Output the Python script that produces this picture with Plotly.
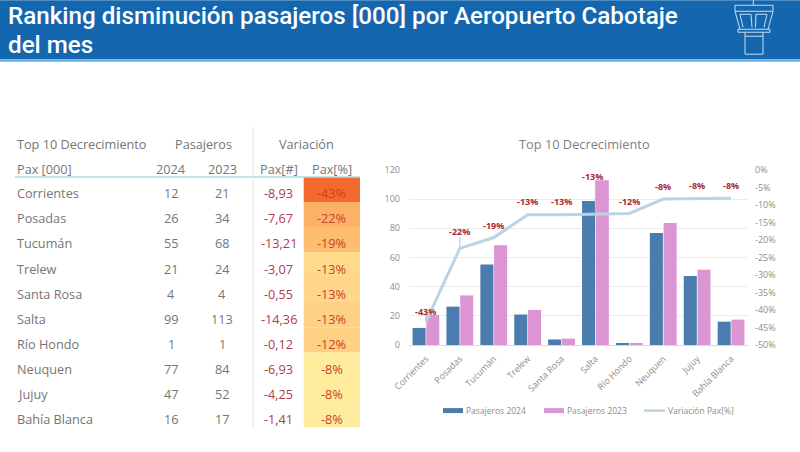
import plotly.graph_objects as go

# Airport data, passengers in thousands
airports = ["Corrientes", "Posadas", "Tucumán", "Trelew", "Santa Rosa", "Salta", "Río Hondo", "Neuquen", "Jujuy", "Bahía Blanca"]
pax_2024 = [11.7, 26.3, 55.2, 20.9, 3.8, 98.7, 1.0, 76.8, 47.3, 16.0]
pax_2023 = [20.6, 34.0, 68.4, 24.0, 4.4, 113.0, 1.1, 83.7, 51.6, 17.4]
delta_pax = [-8.93, -7.67, -13.21, -3.07, -0.55, -14.36, -0.12, -6.93, -4.25, -1.41]
delta_pct = [-43.3, -22.4, -19.3, -12.8, -12.8, -12.7, -12.4, -8.3, -8.2, -8.1]
pct_fill = ["#F4692D", "#FBB266", "#FDBE70", "#FFD98C", "#FFD68A", "#FED286", "#FDD083", "#FFEB9C", "#FFEB9C", "#FFEB9C"]

right_ticks = [0, -5, -10, -15, -20, -25, -30, -35, -40, -45, -50]

TITLE_LINES = ["Ranking disminución pasajeros [000] por Aeropuerto Cabotaje", "del mes"]
BODY_FONT = "Open Sans"
GREY = "#757575"
AXIS_GREY = "#8C8C8C"
RED = "#AE3A4E"

# Plot rectangle in page pixels; overlays are placed relative to it
L, R, T, B = 409, 748, 170, 345.3
W, H = 800, 452


def px(x):
    return (x - L) / (R - L)


def py(y):
    return (B - y) / (B - T)


def text(x, y, s, size=12.7, color=GREY, anchor="center", family=BODY_FONT, weight=None):
    return dict(xref="paper", yref="paper", x=px(x), y=py(y), text=s, showarrow=False,
                xanchor=anchor, yanchor="middle",
                font=dict(size=size, color=color, family=family, weight=weight))


def rect(x0, y0, x1, y1, color):
    return dict(type="rect", xref="paper", yref="paper", x0=px(x0), x1=px(x1), y0=py(y0), y1=py(y1),
                fillcolor=color, line_width=0, layer="above")


def seg(x0, y0, x1, y1, color, width=1):
    return dict(type="line", xref="paper", yref="paper", x0=px(x0), x1=px(x1), y0=py(y0), y1=py(y1),
                line=dict(color=color, width=width), layer="above")


fig = go.Figure()
fig.add_bar(x=airports, y=pax_2024, name="Pasajeros 2024", marker_color="#4A7DAE", marker_line_width=0)
fig.add_bar(x=airports, y=pax_2023, name="Pasajeros 2023", marker_color="#DC95D3", marker_line_width=0)
fig.add_scatter(x=airports, y=delta_pct, name="Variación Pax[%]", yaxis="y2", mode="lines",
                line=dict(color="#BAD4E6", width=3), hoverinfo="skip")

shapes = []
annotations = []

# Header band and title
shapes.append(rect(0, 0, 800, 59, "#1467AF"))
shapes.append(rect(0, 59, 800, 61.5, "#62B1E6"))
annotations.append(text(6, 16, TITLE_LINES[0], size=24.2, color="white", anchor="left", family="Roboto", weight=500))
annotations.append(text(6, 44.5, TITLE_LINES[1], size=24.2, color="white", anchor="left", family="Roboto", weight=500))

# Control tower icon
ICON = "#C9DDEE"
for seg_pts in [
    (753.3, 0, 753.3, 5), (735, 5, 773, 5), (735, 5, 735, 11), (773, 5, 773, 11), (735, 11, 773, 11),
    (735, 11, 740, 29), (773, 11, 768, 29), (740, 14, 751, 14), (751, 14, 752, 27), (740, 14, 743, 27),
    (756, 14, 767, 14), (756, 14, 755.5, 27), (767, 14, 764, 27), (738, 29, 770, 29), (738, 32, 770, 32),
    (738, 29, 738, 32), (770, 29, 770, 32), (745, 32, 745, 54), (763, 32, 763, 54), (745, 54, 763, 54),
    (745, 36, 763, 36),
]:
    shapes.append(seg(*seg_pts, ICON, 1))

# Table header
annotations += [
    text(15, 143.5, "Top 10 Decrecimiento", anchor="left"),
    text(203, 143.5, "Pasajeros"),
    text(306.5, 143.5, "Variación"),
    text(15, 168.5, "Pax [000]", anchor="left"),
    text(171.5, 168.5, "2024"),
    text(222, 168.5, "2023"),
    text(278.5, 168.5, "Pax[#]"),
    text(331.5, 168.5, "Pax[%]"),
]

# Table rows
ROW0, ROW_H = 193.3, 25.15
CELL0, CELL_H = 177, 25.07
for i, name in enumerate(airports):
    yc = ROW0 + i * ROW_H
    shapes.append(rect(303.7, CELL0 + i * CELL_H, 360, CELL0 + (i + 1) * CELL_H, pct_fill[i]))
    annotations += [
        text(15, yc, name, anchor="left"),
        text(171.5, yc, f"{round(pax_2024[i])}"),
        text(222, yc, f"{round(pax_2023[i])}"),
        text(278.5, yc, f"{delta_pax[i]:.2f}".replace(".", ","), color=RED),
        text(331.5, yc, f"{round(delta_pct[i])}%", color="#C8402F"),
    ]
shapes.append(seg(15, 177, 360, 177, "#A9DDE3", 1.5))
shapes.append(seg(253, 127, 253, 428, "#E3E3E3", 1))

# Chart title
annotations.append(text(584, 144, "Top 10 Decrecimiento", size=12.8, color="#7F7F7F"))

# Line data labels, offset above each point
label_shift = [10, 17, 12, 13, 13, 38, 12, 13, 13, 13]
label_dx = [0, 0, 0, 0, 0, -3, 0, 0, 0, 0]
for i, name in enumerate(airports):
    annotations.append(dict(xref="x", yref="y2", x=name, y=delta_pct[i], yshift=label_shift[i], xshift=label_dx[i],
                            text=f"{round(delta_pct[i])}%", showarrow=False, yanchor="middle",
                            font=dict(size=9, color="#A92A35", family=BODY_FONT, weight=700)))

# Leader lines on the labels that sit away from their points
for i, top in [(0, -40.5), (1, -19.3), (5, -3.0)]:
    shapes.append(dict(type="line", xref="x", yref="y2", x0=airports[i], x1=airports[i], y0=delta_pct[i], y1=top,
                       line=dict(color="#BFBFBF", width=1), layer="above"))

# Legend row
LEG_Y = 411
LEG_SIZE = 8.5
shapes.append(rect(443, LEG_Y - 2.5, 463, LEG_Y + 2.5, "#4A7DAE"))
shapes.append(rect(544, LEG_Y - 2.5, 564, LEG_Y + 2.5, "#DC95D3"))
shapes.append(seg(644, LEG_Y, 665, LEG_Y, "#BAD4E6", 2.5))
annotations += [
    text(464, LEG_Y, "Pasajeros 2024", size=LEG_SIZE, color=AXIS_GREY, anchor="left"),
    text(565, LEG_Y, "Pasajeros 2023", size=LEG_SIZE, color=AXIS_GREY, anchor="left"),
    text(666, LEG_Y, "Variación Pax[%]", size=LEG_SIZE, color=AXIS_GREY, anchor="left"),
]

fig.update_layout(
    width=W, height=H,
    margin=dict(l=L, r=W - R, t=T, b=H - B, autoexpand=False),
    paper_bgcolor="white", plot_bgcolor="white",
    barmode="group", bargap=0.19, bargroupgap=0.05,
    showlegend=False,
    shapes=shapes, annotations=annotations,
    font=dict(family=BODY_FONT, color=AXIS_GREY, size=9),
    xaxis=dict(tickangle=-45, showgrid=False, showline=True, linecolor="#DADADA", ticks="", automargin=False,
               ticklabelstandoff=4, tickfont=dict(size=9, color=AXIS_GREY)),
    yaxis=dict(range=[0, 120], dtick=20, gridcolor="#E9EDF1", gridwidth=1, zeroline=False, showline=False,
               ticks="", automargin=False, ticklabelstandoff=8, tickfont=dict(size=9, color=AXIS_GREY)),
    yaxis2=dict(overlaying="y", side="right", range=[-50, 0], tickmode="array", tickvals=right_ticks,
                ticktext=[f"{v}%" for v in right_ticks], showgrid=False, zeroline=False, showline=False,
                ticks="", automargin=False, ticklabelstandoff=6, tickfont=dict(size=9, color=AXIS_GREY)),
)

fig.write_html("out.html", config=dict(displayModeBar=False))
